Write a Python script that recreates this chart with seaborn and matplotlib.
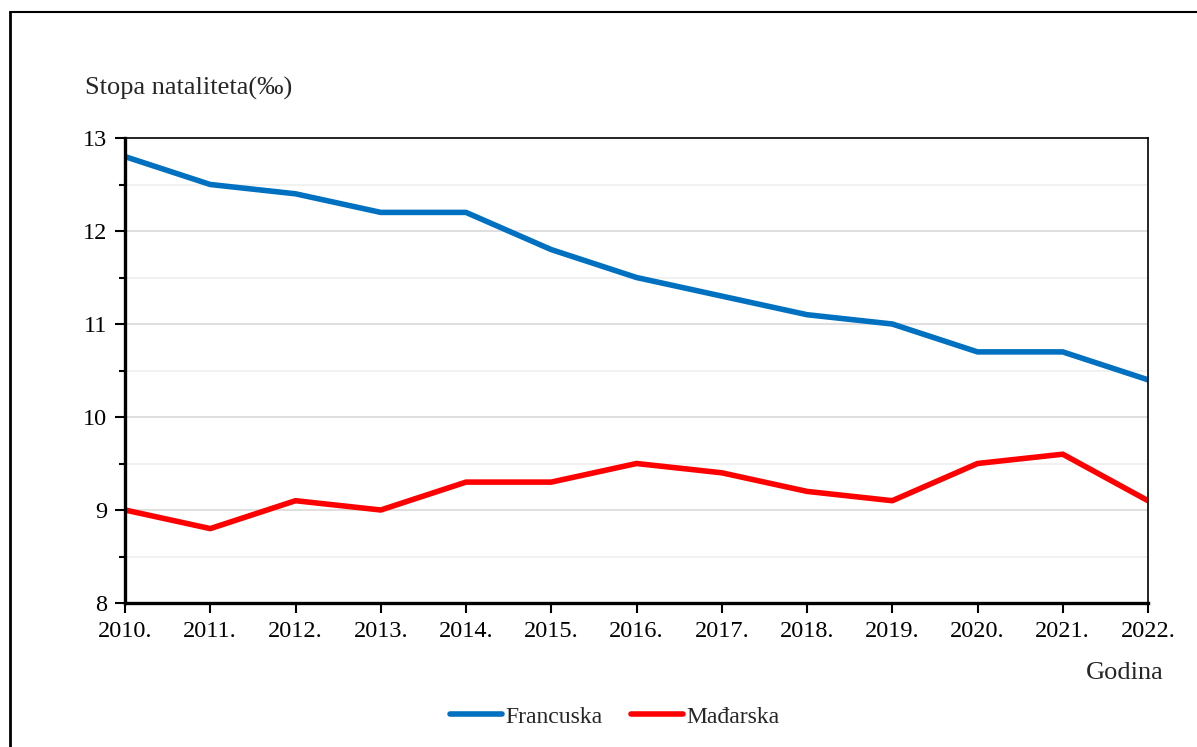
import pandas as pd
import seaborn as sns
import matplotlib.pyplot as plt
from matplotlib.lines import Line2D

# Data
years = ["2010.", "2011.", "2012.", "2013.", "2014.", "2015.", "2016.",
         "2017.", "2018.", "2019.", "2020.", "2021.", "2022."]
francuska = [12.8, 12.5, 12.4, 12.2, 12.2, 11.8, 11.5, 11.3, 11.1, 11.0, 10.7, 10.7, 10.4]
madjarska = [9.0, 8.8, 9.1, 9.0, 9.3, 9.3, 9.5, 9.4, 9.2, 9.1, 9.5, 9.6, 9.1]
series_names = ["Francuska", "Mađarska"]
colors = ["#0070C0", "#FF0000"]

df = pd.DataFrame({
    "idx": list(range(len(years))) * 2,
    "value": francuska + madjarska,
    "country": [series_names[0]] * len(years) + [series_names[1]] * len(years),
})

sns.set_theme(style="white")
plt.rcParams["font.family"] = ["Liberation Serif", "DejaVu Serif"]

fig = plt.figure(figsize=(11.97, 7.47), dpi=100)
ax = fig.add_axes([125 / 1197, 144 / 747, 1023 / 1197, 465 / 747])

sns.lineplot(data=df, x="idx", y="value", hue="country", palette=colors,
             linewidth=4.0, ax=ax, legend=False)

ax.set_xlim(0, len(years) - 1)
ax.set_ylim(8, 13)
ax.set_xticks(range(len(years)))
ax.set_xticklabels(years)
ax.set_yticks([8, 9, 10, 11, 12, 13])
ax.set_yticks([8.5, 9.5, 10.5, 11.5, 12.5], minor=True)
ax.set_xlabel("")
ax.set_ylabel("")

# gridlines
for v in [9, 10, 11, 12]:
    ax.axhline(v, color="#d9d9d9", lw=1.2, zorder=0)
for v in [8.5, 9.5, 10.5, 11.5, 12.5]:
    ax.axhline(v, color="#efefef", lw=1.2, zorder=0)

ax.tick_params(axis="both", which="both", direction="out", color="black",
               labelsize=17.5, labelcolor="black")
ax.tick_params(axis="y", which="major", length=7, width=1.5, left=True, pad=6)
ax.tick_params(axis="y", which="minor", length=4, width=1.5, left=True)
ax.tick_params(axis="x", which="major", length=7, width=1.5, bottom=True, pad=6)

for side in ["left", "bottom"]:
    ax.spines[side].set_linewidth(2.4)
    ax.spines[side].set_color("black")
for side in ["top", "right"]:
    ax.spines[side].set_linewidth(1.2)
    ax.spines[side].set_color("black")
    ax.spines[side].set_visible(True)

fig.text(85 / 1197, 1 - 88 / 747, "Stopa nataliteta(‰)", fontsize=19,
         ha="left", va="center")
fig.text(1164 / 1197, 1 - 673 / 747, "Godina", fontsize=19,
         ha="right", va="center")

handles = [Line2D([0], [0], color=c, lw=4, solid_capstyle="round") for c in colors]
fig.legend(handles, series_names, loc="center", bbox_to_anchor=(615 / 1197, 1 - 717 / 747),
           ncol=2, frameon=False, fontsize=17, handlelength=2.2, handletextpad=0.15,
           columnspacing=1.2)

# outer frame
fig.add_artist(Line2D([10 / 1197, 10 / 1197], [0, 1 - 12 / 747], color="black", lw=2))
fig.add_artist(Line2D([10 / 1197, 1], [1 - 12 / 747, 1 - 12 / 747], color="black", lw=1.5))

fig.savefig("out.png", dpi=100)
